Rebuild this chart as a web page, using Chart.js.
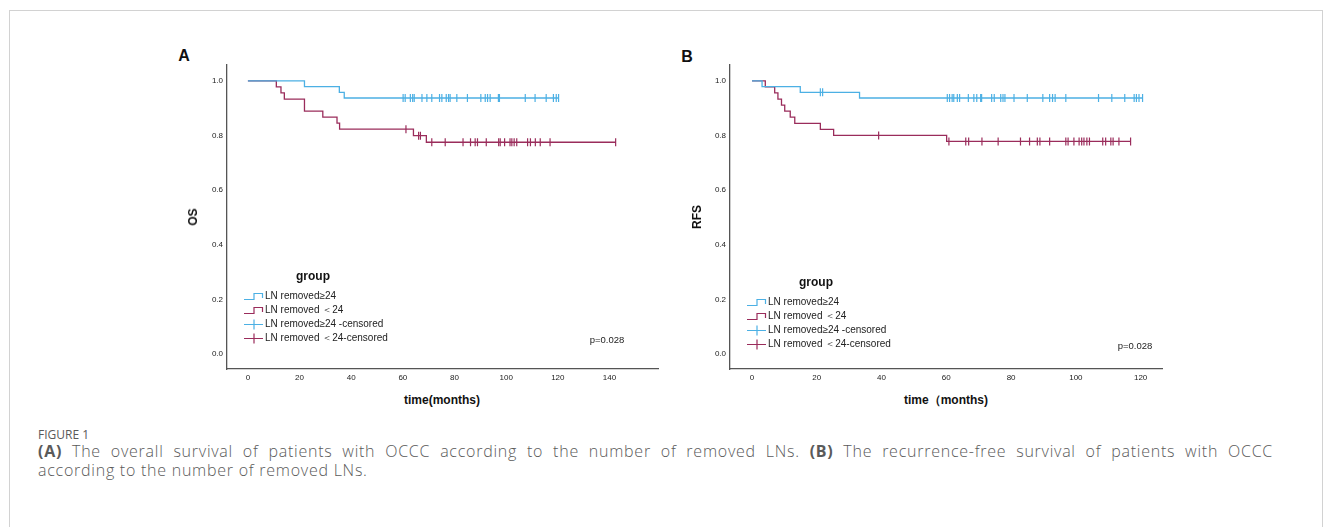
<!DOCTYPE html>
<html>
<head>
<meta charset="utf-8">
<script src="https://cdn.jsdelivr.net/npm/chart.js@4.4.4/dist/chart.umd.min.js"></script>
<style>
  body { margin: 0; background: #fff; }
  #page { position: relative; width: 1333px; height: 527px; overflow: hidden; font-family: "Liberation Sans", Arial, sans-serif; }
  .frame { position: absolute; left: 9px; top: 10px; width: 1314px; height: 530px; border: 1px solid #d2d2d2; box-sizing: border-box; }
  .cv { position: absolute; }
  .t { position: absolute; white-space: nowrap; color: #111; line-height: 1; }
  .c { transform: translate(-50%, -50%); }
  .bold { font-weight: bold; }
  .leg { position: absolute; font-size: 10px; color: #222; }
  .leg div { position: relative; height: 14px; line-height: 14px; padding-left: 21px; white-space: nowrap; }
  .leg svg { position: absolute; left: 0; top: 2px; }
  .cap { position: absolute; left: 38px; color: #5a5a5a; font-family: "Open Sans", sans-serif; white-space: nowrap; }
  .capText { font-size: 16px; letter-spacing: 0.75px; line-height: 19px; font-weight: 300; }
  .capText b { font-weight: 700; }
  .justify { width: 1235px; white-space: normal; text-align: justify; text-align-last: justify; }
</style>
</head>
<body>
<div id="page">
  <div class="frame"></div>

  <div class="t c bold" style="left:184px;top:56px;font-size:16px;">A</div>
  <div class="t c bold" style="left:687px;top:57px;font-size:16px;">B</div>

  <canvas id="chartA" class="cv" style="left:180px;top:56px;" width="485" height="334"></canvas>
  <canvas id="chartB" class="cv" style="left:683px;top:56px;" width="485" height="334"></canvas>

  <div class="t c bold" style="left:193px;top:217px;font-size:12px;transform:translate(-50%,-50%) rotate(-90deg);">OS</div>
  <div class="t c bold" style="left:697px;top:217px;font-size:12px;transform:translate(-50%,-50%) rotate(-90deg);">RFS</div>
  <div class="t c bold" style="left:442px;top:400px;font-size:12px;">time(months)</div>
  <div class="t c bold" style="left:946px;top:400px;font-size:12px;">time（months)</div>

  <div class="t c bold" style="left:313px;top:276px;font-size:12px;">group</div>
  <div class="t c bold" style="left:816px;top:282px;font-size:12px;">group</div>
  <div class="leg" id="legA" style="left:244px;top:289px;"></div>
  <div class="leg" id="legB" style="left:747px;top:295px;"></div>

  <div class="t c" style="left:607px;top:340px;font-size:9.5px;color:#222;">p=0.028</div>
  <div class="t c" style="left:1135px;top:346px;font-size:9.5px;color:#222;">p=0.028</div>

  <div class="cap" style="top:426px;font-size:12px;">FIGURE 1</div>
  <div class="cap capText justify" style="top:442px;"><b>(A)</b> The overall survival of patients with OCCC according to the number of removed LNs. <b>(B)</b> The recurrence-free survival of patients with OCCC</div>
  <div class="cap capText" style="top:461px;">according to the number of removed LNs.</div>
</div>

<script>
// Panel A: overall survival
const osHighTimes = [0, 21.9, 35.4, 37.3, 120.3];
const osHighSurv = [1, 0.979, 0.958, 0.937, 0.937];
const osLowTimes = [0, 11.0, 12.8, 14.1, 21.9, 29.0, 34.5, 35.5, 64.1, 69.1, 142.4];
const osLowSurv = [1, 0.978, 0.956, 0.933, 0.889, 0.867, 0.845, 0.823, 0.799, 0.775, 0.775];
const osHighCensor = [60.1, 60.9, 62.9, 63.8, 64.4, 67.4, 69.3, 71.2, 74.2, 75.1, 76.8, 77.7, 78.3, 80.9,
  85.0, 90.2, 91.9, 92.8, 93.8, 97.0, 97.4, 107.4, 111.2, 115.5, 118.3, 119.4, 120.3];
const osLowCensor = [61.2, 66.1, 66.8, 71.2, 76.4, 83.3, 86.2, 88.0, 88.9, 92.3, 97.1, 97.7, 99.4,
  101.5, 102.2, 103.1, 104.1, 108.3, 109.4, 111.3, 113.2, 117.0, 142.4];

// Panel B: recurrence-free survival
const rfsHighTimes = [0, 3.1, 14.9, 33.2, 120.6];
const rfsHighSurv = [1, 0.979, 0.958, 0.937, 0.937];
const rfsLowTimes = [0, 4.1, 7.0, 8.0, 9.1, 10.1, 11.8, 13.2, 21.1, 25.2, 60.1, 116.9];
const rfsLowSurv = [1, 0.978, 0.956, 0.933, 0.911, 0.889, 0.867, 0.844, 0.822, 0.800, 0.778, 0.778];
const rfsHighCensor = [21.1, 21.8, 60.3, 61.0, 61.8, 62.3, 63.4, 64.1, 66.8, 68.5, 69.4, 70.6, 70.9, 74.0,
  74.8, 76.8, 77.5, 78.1, 80.9, 85.0, 89.8, 91.9, 92.8, 93.6, 96.9, 107.0, 111.1, 115.1, 118.0, 118.7, 119.5, 120.6];
const rfsLowCensor = [39.1, 60.8, 66.0, 66.9, 71.0, 76.0, 82.9, 85.7, 88.1, 88.9, 91.9, 96.9, 97.6, 99.4,
  101.0, 101.8, 102.5, 103.4, 104.2, 108.3, 109.2, 110.8, 111.5, 113.3, 116.9];

const yTicks = [0, 0.2, 0.4, 0.6, 0.8, 1.0];
const osXTicks = [0, 20, 40, 60, 80, 100, 120, 140];
const rfsXTicks = [0, 20, 40, 60, 80, 100, 120];

const groupLabels = ['LN removed\u226524', 'LN removed \uff1c24', 'LN removed\u226524 -censored', 'LN removed \uff1c24-censored'];

const BLUE = '#4cb0e4';
const RED = '#9a2c5b';

function curve(times, surv) {
  return times.map((t, i) => ({ x: t, y: surv[i] }));
}
// survival value of a step curve at time t (for placing the censor ticks)
function survAt(times, surv, t) {
  let s = surv[0];
  for (let i = 0; i < times.length; i++) if (times[i] <= t) s = surv[i];
  return s;
}
function marks(censor, times, surv) {
  return censor.map(t => ({ x: t, y: survAt(times, surv, t) }));
}

function makeChart(id, cfg) {
  const tickFont = { family: 'Liberation Sans', size: 8 };
  return new Chart(document.getElementById(id), {
    type: 'scatter',
    data: {
      datasets: [
        { type: 'line', data: curve(cfg.highT, cfg.highS), stepped: true, borderColor: BLUE, borderWidth: 1.3, pointRadius: 0, fill: false },
        { type: 'line', data: curve(cfg.lowT, cfg.lowS), stepped: true, borderColor: RED, borderWidth: 1.3, pointRadius: 0, fill: false },
        { data: marks(cfg.highC, cfg.highT, cfg.highS), pointStyle: 'line', rotation: 90, radius: 4, borderColor: BLUE, borderWidth: 1.2 },
        { data: marks(cfg.lowC, cfg.lowT, cfg.lowS), pointStyle: 'line', rotation: 90, radius: 4, borderColor: RED, borderWidth: 1.2 },
      ]
    },
    options: {
      responsive: false,
      animation: false,
      events: [],
      layout: { padding: { top: 5, right: cfg.padRight, left: 0, bottom: 0 } },
      plugins: { legend: { display: false }, tooltip: { enabled: false } },
      scales: {
        x: {
          type: 'linear', min: cfg.xMin, max: cfg.xMax,
          grid: { display: false, drawTicks: false },
          border: { display: true, color: '#555', width: 1.3 },
          afterFit: s => { s.height = 21; },
          afterBuildTicks: s => { s.ticks = cfg.xTicks.map(v => ({ value: v })); },
          ticks: { font: tickFont, color: '#222', padding: 4, maxRotation: 0, callback: v => String(v) }
        },
        y: {
          type: 'linear', min: -0.055, max: 1.0586,
          grid: { display: false, drawTicks: false },
          border: { display: true, color: '#555', width: 1.3 },
          afterFit: s => { s.width = 47; },
          afterBuildTicks: s => { s.ticks = yTicks.map(v => ({ value: v })); },
          ticks: { font: tickFont, color: '#222', padding: 4, callback: v => v.toFixed(1) }
        }
      }
    }
  });
}

makeChart('chartA', {
  highT: osHighTimes, highS: osHighSurv, lowT: osLowTimes, lowS: osLowSurv,
  highC: osHighCensor, lowC: osLowCensor,
  xMin: -8.1, xMax: 158.8, xTicks: osXTicks, padRight: 7
});
makeChart('chartB', {
  highT: rfsHighTimes, highS: rfsHighSurv, lowT: rfsLowTimes, lowS: rfsLowSurv,
  highC: rfsHighCensor, lowC: rfsLowCensor,
  xMin: -6.8, xMax: 126.6, xTicks: rfsXTicks, padRight: 6
});

// legend rows inside the plots
function stepIcon(color) {
  return `<svg width="20" height="10"><path d="M0 8.5 H10 V2.5 H18.5 V7" fill="none" stroke="${color}" stroke-width="1.2"/></svg>`;
}
function crossIcon(color) {
  return `<svg width="20" height="11"><path d="M0 5.5 H19 M10 0.5 V10.5" fill="none" stroke="${color}" stroke-width="1.2"/></svg>`;
}
function fillLegend(id) {
  const icons = [stepIcon(BLUE), stepIcon(RED), crossIcon(BLUE), crossIcon(RED)];
  document.getElementById(id).innerHTML = groupLabels
    .map((lab, i) => `<div>${icons[i]}${lab}</div>`).join('');
}
fillLegend('legA');
fillLegend('legB');
</script>
</body>
</html>
